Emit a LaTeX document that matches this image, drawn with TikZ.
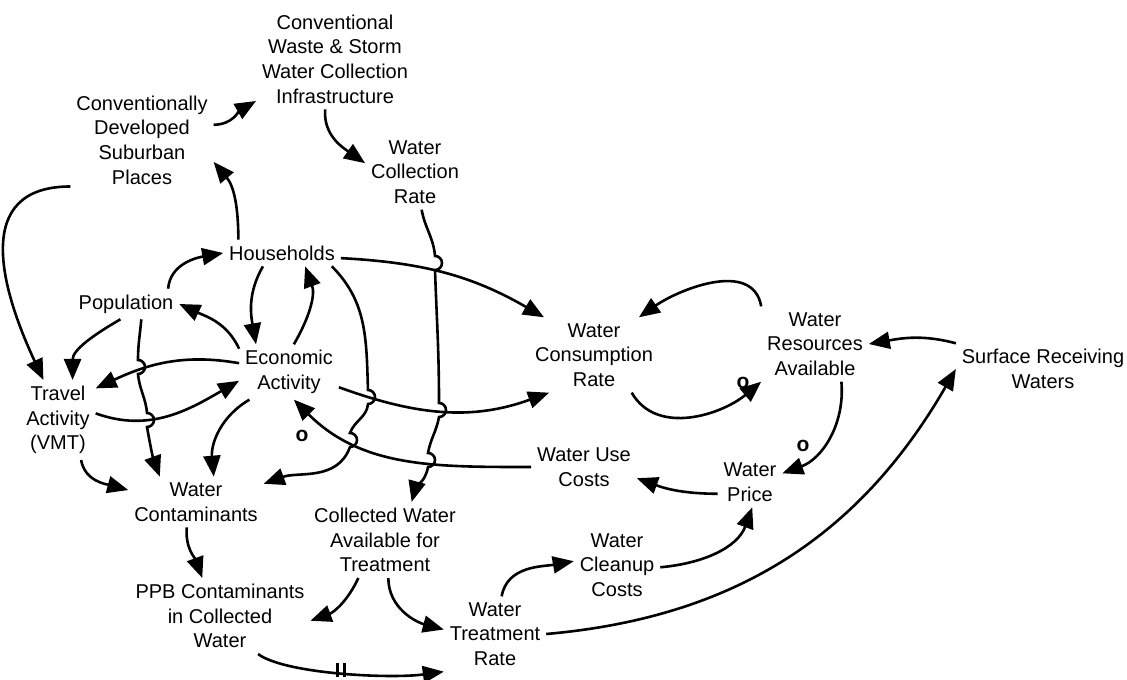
\documentclass[tikz,border=0pt]{standalone}
\usepackage{fontspec}
\setmainfont{Liberation Sans}
\usetikzlibrary{arrows.meta}

\begin{document}
\begin{tikzpicture}[x=.5pt,y=.5pt,
  var/.style={align=center,inner sep=2pt,outer sep=1pt,font=\fontsize{10}{12.35}\selectfont},
  link/.style={line width=1.3pt,-{Triangle[length=10.5pt,width=8.5pt]}},
  pol/.style={inner sep=0pt,font=\fontsize{10.5}{12}\selectfont\bfseries}]
\useasboundingbox (0,0) rectangle (1127,679);
% variables
\node[var] (CWS) at (335,620) {Conventional\\Waste \& Storm\\Water Collection\\Infrastructure};
\node[var] (CDSP) at (142,539) {Conventionally\\Developed\\Suburban\\Places};
\node[var] (WCR) at (415,507) {Water\\Collection\\Rate};
\node[var] (HH) at (282,426) {Households};
\node[var] (POP) at (126,375) {Population};
\node[var] (EA) at (289,307) {Economic\\Activity};
\node[var] (TA) at (58,259) {Travel\\Activity\\(VMT)};
\node[var] (WC) at (196,177) {Water\\Contaminants};
\node[var] (CWA) at (385,139) {Collected Water\\Available for\\Treatment};
\node[var] (PPB) at (220,63) {PPB Contaminants\\in Collected\\Water};
\node[var] (WTR) at (495,45) {Water\\Treatment\\Rate};
\node[var] (WCC) at (617,114) {Water\\Cleanup\\Costs};
\node[var] (WUC) at (584,212) {Water Use\\Costs};
\node[var] (WP) at (750,197) {Water\\Price};
\node[var] (WCN) at (594,324) {Water\\Consumption\\Rate};
\node[var] (WRA) at (815,335) {Water\\Resources\\Available};
\node[var] (SRW) at (1043,310) {Surface Receiving\\Waters};
% links
\draw[link] (CDSP.12) to[out=0,in=210] (CWS.208);
\draw[link] (CWS.259) to[out=-95,in=145] (WCR.170);
\draw[link] (HH.163) to[out=90,in=-50] (CDSP.-17);
\draw[link] (CDSP.213) to[out=180,in=115,looseness=1.3] (TA.110);
\draw[link] (POP.20) to[out=85,in=190] (HH.west);
\draw[link] (EA.155) to[out=115,in=-25] (POP.east);
\draw[link] (POP.250) to[out=210,in=90] (TA.70);
\draw[link] (HH.215) to[out=240,in=100] (EA.140);
\draw[link] (EA.80) to[out=60,in=-70] (HH.-30);
\draw[link] (HH.-5) to[out=-3,in=150] (WCN.143);
\draw[link] (EA.170) to[out=170,in=25] (TA.40);
\draw[link] (TA.10) to[out=-20,in=210] (EA.190);
\draw[link] (TA.-60) to[out=-80,in=165] (WC.170);
\draw[link] (EA.215) to[out=210,in=95] (WC.55);
\draw[link] (EA.-17) to[out=-20,in=200] (WCN.-140);
\draw[link] (WUC.west) to[out=180,in=-45] (EA.-80);
% links with hops
\draw[link] (POP.-45) to[out=-95,in=90] (138,319) arc[start angle=90,end angle=-90,radius=7]
  to[out=-85,in=95] (147,266) arc[start angle=90,end angle=-90,radius=7]
  to[out=-80,in=110] (WC.145);
\draw[link] (HH.-15) to[out=-45,in=92] (368,289) arc[start angle=90,end angle=-90,radius=7]
  to[out=-95,in=70] (350,246) arc[start angle=90,end angle=-90,radius=7]
  to[out=-110,in=20] (WC.15);
\draw[link] (WCR.-80) to[out=-80,in=95] (435,423) arc[start angle=90,end angle=-90,radius=7]
  to[out=-88,in=90] (439,276) arc[start angle=90,end angle=-90,radius=7]
  to[out=-100,in=80] (428,226) arc[start angle=90,end angle=-90,radius=7]
  to[out=-100,in=75] (CWA.55);
% treatment side
\draw[link] (WC.-110) to[out=-95,in=110] (PPB.115);
\draw[link] (CWA.-125) to[out=245,in=20] (PPB.-3);
\draw[link] (CWA.-85) to[out=-90,in=165] (WTR.175);
\draw[link] (PPB.-45) .. controls (285,5) and (390,0) .. coordinate[pos=.5] (dly) (WTR.south west);
\draw[line width=1.3pt] ([xshift=-1.8pt]dly) +(0,-4) -- +(0,10) ([xshift=1.8pt]dly) +(0,-4) -- +(0,10);
\draw[link] (WTR.80) to[out=80,in=190] (WCC.175);
\draw[link] (WCC.-3) to[out=5,in=-110] (WP.-85);
\draw[link] (WP.200) to[out=180,in=-20] (WUC.-12);
\draw[link] (WRA.145) to[out=100,in=35] (WCN.40);
\draw[link] (WCN.-45) to[out=-60,in=220] (WRA.south west);
\draw[link] (SRW.north west) to[out=165,in=10] (WRA.east);
\draw[link] (WRA.-55) to[out=-85,in=20] (WP.15);
\draw[link] (WTR.east) to[out=5,in=240] (SRW.west);
% polarity marks
\node[pol] (oEA) at (302,243) {o};
\node[pol] (oWRA) at (743,296) {o};
\node[pol] (oWP) at (803,233) {o};
\end{tikzpicture}
\end{document}
